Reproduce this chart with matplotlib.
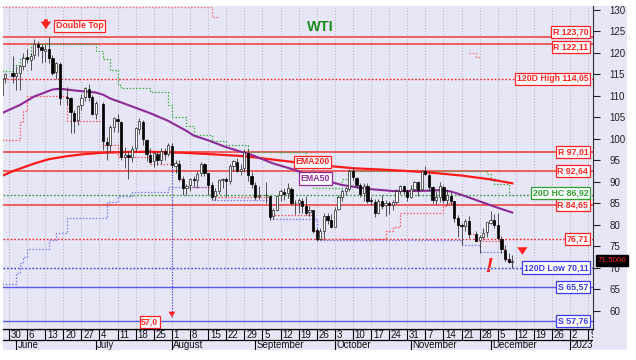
import matplotlib
matplotlib.use("Agg")
import matplotlib.pyplot as plt
import matplotlib.transforms as mtransforms
from matplotlib.patches import Rectangle
import numpy as np
import pandas as pd

plt.rcParams["font.family"] = ["Liberation Sans", "DejaVu Sans"]

# daily WTI candles
dates = [
    "2022-05-26", "2022-05-27", "2022-05-31",
    "2022-06-01", "2022-06-02", "2022-06-03", "2022-06-06", "2022-06-07", "2022-06-08", "2022-06-09",
    "2022-06-10", "2022-06-13", "2022-06-14", "2022-06-15", "2022-06-16", "2022-06-17", "2022-06-21",
    "2022-06-22", "2022-06-23", "2022-06-24", "2022-06-27", "2022-06-28", "2022-06-29", "2022-06-30",
    "2022-07-01", "2022-07-05", "2022-07-06", "2022-07-07", "2022-07-08", "2022-07-11", "2022-07-12",
    "2022-07-13", "2022-07-14", "2022-07-15", "2022-07-18", "2022-07-19", "2022-07-20", "2022-07-21",
    "2022-07-22", "2022-07-25", "2022-07-26", "2022-07-27", "2022-07-28", "2022-07-29",
    "2022-08-01", "2022-08-02", "2022-08-03", "2022-08-04", "2022-08-05", "2022-08-08", "2022-08-09",
    "2022-08-10", "2022-08-11", "2022-08-12", "2022-08-15", "2022-08-16", "2022-08-17", "2022-08-18",
    "2022-08-19", "2022-08-22", "2022-08-23", "2022-08-24", "2022-08-25", "2022-08-26", "2022-08-29",
    "2022-08-30", "2022-08-31",
    "2022-09-01", "2022-09-02", "2022-09-06", "2022-09-07", "2022-09-08", "2022-09-09", "2022-09-12",
    "2022-09-13", "2022-09-14", "2022-09-15", "2022-09-16", "2022-09-19", "2022-09-20", "2022-09-21",
    "2022-09-22", "2022-09-23", "2022-09-26", "2022-09-27", "2022-09-28", "2022-09-29", "2022-09-30",
    "2022-10-03", "2022-10-04", "2022-10-05", "2022-10-06", "2022-10-07", "2022-10-10", "2022-10-11",
    "2022-10-12", "2022-10-13", "2022-10-14", "2022-10-17", "2022-10-18", "2022-10-19", "2022-10-20",
    "2022-10-21", "2022-10-24", "2022-10-25", "2022-10-26", "2022-10-27", "2022-10-28", "2022-10-31",
    "2022-11-01", "2022-11-02", "2022-11-03", "2022-11-04", "2022-11-07", "2022-11-08", "2022-11-09",
    "2022-11-10", "2022-11-11", "2022-11-14", "2022-11-15", "2022-11-16", "2022-11-17", "2022-11-18",
    "2022-11-21", "2022-11-22", "2022-11-23", "2022-11-25", "2022-11-28", "2022-11-29", "2022-11-30",
    "2022-12-01", "2022-12-02", "2022-12-05", "2022-12-06", "2022-12-07", "2022-12-08", "2022-12-09",
]
opens = [
    110.3, 114.1, 115.3,
    114.6, 115.4, 117.0, 119.1, 118.4, 119.5, 122.0, 121.4, 120.5, 121.0, 118.8, 115.5, 117.5, 109.8,
    109.6, 106.0, 104.5, 107.8, 109.7, 111.6, 109.7,
    105.9, 108.2, 99.4, 98.7, 102.9, 104.6, 104.0, 95.9, 96.2, 95.9, 97.8, 102.4, 104.0, 99.8,
    96.2, 94.9, 96.5, 95.2, 97.1, 96.5,
    98.4, 93.8, 94.3, 90.6, 88.6, 89.2, 90.6, 90.4, 92.0, 94.2, 92.0, 89.3, 86.7, 87.8,
    90.4, 90.6, 90.3, 93.8, 94.7, 92.6, 93.2, 96.8, 91.5,
    89.4, 86.8, 87.0, 86.7, 82.0, 83.6, 86.9, 87.6, 87.4, 88.3, 85.0, 85.2, 85.6, 84.4,
    83.0, 83.4, 78.8, 76.8, 78.6, 82.0, 81.1,
    79.6, 83.7, 86.4, 87.9, 88.4, 92.5, 91.0, 89.3, 87.4, 89.0, 85.7, 85.4, 82.9, 85.5,
    84.6, 85.0, 84.7, 85.4, 87.8, 89.0, 87.8,
    86.6, 88.3, 89.9, 88.3, 92.5, 91.7, 88.8, 85.9, 86.6, 88.8, 85.9, 86.8, 85.5, 81.7,
    80.0, 79.8, 80.9, 78.0, 76.4, 77.3, 78.3,
    80.5, 81.1, 80.1, 76.8, 74.2, 72.1, 71.4,
]
highs = [
    114.4, 115.4, 119.4,
    117.0, 117.1, 120.0, 121.0, 120.0, 123.2, 122.7, 122.0, 122.0, 123.7, 119.5, 118.0, 117.9, 112.0,
    109.8, 106.8, 107.8, 110.4, 112.2, 112.8, 110.3,
    108.8, 108.7, 100.5, 103.2, 105.1, 105.7, 104.3, 98.2, 97.2, 98.3, 102.8, 104.8, 104.5, 100.0,
    97.9, 97.0, 97.3, 97.9, 98.0, 99.0,
    99.0, 95.0, 95.2, 91.4, 89.5, 91.0, 91.5, 92.5, 94.6, 94.5, 92.2, 89.9, 88.5, 90.8,
    91.0, 91.1, 94.2, 95.1, 95.6, 94.2, 97.6, 97.6, 92.4,
    89.9, 89.0, 90.0, 87.0, 84.0, 87.0, 88.3, 88.5, 89.8, 88.8, 85.7, 86.3, 86.3, 86.7,
    84.5, 83.6, 79.3, 79.3, 82.8, 82.8, 82.6,
    84.1, 87.0, 88.4, 88.8, 93.0, 93.6, 91.2, 89.8, 89.7, 89.7, 86.6, 86.0, 86.0, 86.9,
    85.9, 85.6, 85.9, 88.4, 89.4, 89.2, 88.3,
    89.3, 90.3, 90.3, 92.8, 93.7, 92.4, 89.1, 88.0, 90.1, 89.3, 88.4, 87.6, 85.6, 82.3,
    80.5, 81.3, 82.0, 78.6, 77.6, 79.4, 80.7,
    83.3, 82.5, 82.8, 77.5, 75.3, 73.4, 73.0,
]
lows = [
    109.6, 113.1, 113.0,
    111.3, 111.4, 116.0, 117.7, 116.1, 118.5, 119.2, 117.7, 118.0, 117.6, 114.8, 114.0, 107.8, 108.0,
    101.5, 101.5, 103.3, 106.7, 108.9, 108.8, 105.5,
    104.6, 97.4, 95.1, 97.0, 101.6, 101.6, 95.1, 93.3, 90.6, 94.6, 97.1, 101.2, 98.6, 94.9,
    94.4, 93.6, 94.0, 94.2, 95.0, 96.0,
    93.3, 92.0, 90.2, 87.0, 87.0, 88.0, 88.8, 88.6, 91.5, 91.4, 87.0, 85.7, 85.7, 87.2,
    88.5, 86.5, 89.5, 92.5, 92.3, 91.7, 92.4, 90.3, 88.7,
    85.9, 86.0, 85.0, 81.2, 81.3, 83.3, 85.6, 85.8, 86.2, 84.7, 82.6, 82.7, 82.7, 82.3,
    82.1, 78.1, 76.3, 76.6, 76.7, 80.3, 79.3,
    79.5, 83.4, 85.6, 87.0, 88.0, 90.4, 88.6, 86.6, 85.5, 85.1, 84.6, 81.9, 82.5, 83.7,
    82.1, 82.5, 83.5, 84.8, 87.2, 87.3, 85.5,
    86.3, 87.8, 86.7, 88.0, 91.6, 87.8, 85.2, 84.8, 85.4, 85.0, 84.6, 84.9, 80.6, 77.2,
    75.3, 78.5, 77.0, 76.8, 73.6, 76.7, 77.2,
    80.2, 79.4, 76.5, 73.6, 71.7, 71.1, 70.1,
]
closes = [
    114.1, 115.1, 114.7,
    115.3, 116.9, 118.9, 118.5, 119.4, 122.1, 121.5, 120.7, 120.9, 118.9, 115.3, 117.6, 109.6, 109.5,
    106.2, 104.3, 107.6, 109.6, 111.8, 109.8, 105.8,
    108.4, 99.5, 98.5, 102.7, 104.8, 104.1, 95.8, 96.3, 95.8, 97.6, 102.6, 104.2, 99.9, 96.4,
    94.7, 96.7, 95.0, 97.3, 96.4, 98.6,
    93.9, 94.4, 90.7, 88.5, 89.0, 90.8, 90.5, 91.9, 94.3, 92.1, 89.4, 86.5, 87.9, 90.5,
    90.8, 90.2, 93.7, 94.9, 92.5, 93.1, 97.0, 91.6, 89.6,
    86.6, 86.9, 86.9, 81.9, 83.5, 86.8, 87.8, 87.3, 88.5, 85.1, 85.1, 85.7, 84.5, 82.9,
    83.5, 78.7, 76.7, 78.5, 82.2, 81.2, 79.5,
    83.6, 86.5, 87.8, 88.5, 92.6, 91.1, 89.4, 87.3, 89.1, 85.6, 85.5, 82.8, 85.6, 84.5,
    85.1, 84.6, 85.3, 87.9, 89.1, 87.9, 86.5,
    88.4, 90.0, 88.2, 92.6, 91.8, 88.9, 85.8, 86.5, 89.0, 85.9, 86.9, 85.6, 81.6, 80.1,
    79.7, 81.0, 77.9, 76.3, 77.2, 78.2, 80.6,
    81.2, 80.0, 76.9, 74.3, 72.0, 71.5, 71.5,
]

# moving averages, read at a few dates
ema200_dates = ["2022-05-26", "2022-05-31", "2022-06-03", "2022-06-08", "2022-06-14", "2022-06-21",
                "2022-06-28", "2022-07-05", "2022-07-14", "2022-07-25", "2022-08-04", "2022-08-15",
                "2022-08-29", "2022-09-12", "2022-09-26", "2022-10-10", "2022-10-24", "2022-11-07",
                "2022-11-21", "2022-12-01", "2022-12-09"]
ema200_values = [91.4, 92.5, 93.4, 94.3, 95.3, 96.0, 96.5, 96.8, 97.0, 97.0, 96.8, 96.5,
                 96.0, 95.0, 94.0, 93.2, 92.8, 92.3, 91.5, 90.6, 89.7]
ema50_dates = ["2022-05-26", "2022-06-02", "2022-06-08", "2022-06-15", "2022-06-17", "2022-06-24",
               "2022-07-01", "2022-07-05", "2022-07-07", "2022-07-12", "2022-07-22", "2022-07-29",
               "2022-08-05", "2022-08-09", "2022-08-15", "2022-08-22", "2022-08-31", "2022-09-08",
               "2022-09-16", "2022-09-21", "2022-09-26", "2022-10-05", "2022-10-14", "2022-10-25",
               "2022-11-03", "2022-11-11", "2022-11-16", "2022-11-21", "2022-11-28", "2022-12-05",
               "2022-12-09"]
ema50_values = [106.0, 107.9, 109.9, 111.5, 111.7, 111.2, 110.8, 110.3, 109.4, 108.5, 106.0, 104.2,
                101.9, 100.8, 99.7, 98.1, 96.3, 94.3, 92.8, 91.8, 90.9, 89.3, 88.4, 87.9,
                87.9, 88.1, 87.8, 87.0, 85.5, 84.0, 82.9]

# channel step lines (level changes)
hc20_dates = ["2022-05-26", "2022-05-31", "2022-06-02", "2022-06-07", "2022-07-01", "2022-07-05",
              "2022-07-07", "2022-07-11", "2022-07-12", "2022-07-22", "2022-07-29", "2022-08-01",
              "2022-08-05", "2022-08-09", "2022-08-16", "2022-08-22", "2022-08-30", "2022-09-21",
              "2022-09-23", "2022-10-05", "2022-10-07", "2022-11-30", "2022-12-01", "2022-12-02",
              "2022-12-08", "2022-12-09"]
hc20_values = [115.7, 117.2, 118.8, 122.2, 120.5, 118.6, 116.0, 112.5, 111.9, 111.0, 108.0, 105.2,
               103.0, 101.0, 99.6, 98.6, 97.0, 95.0, 88.5, 90.8, 92.6, 91.8, 90.5, 89.5,
               86.9, 86.9]
lc20_dates = ["2022-05-26", "2022-06-02", "2022-06-03", "2022-06-06", "2022-06-21", "2022-07-05",
              "2022-07-11", "2022-07-22", "2022-08-03", "2022-08-04", "2022-08-16", "2022-09-07",
              "2022-09-23", "2022-09-26", "2022-10-21", "2022-10-25", "2022-10-27", "2022-11-14",
              "2022-11-15", "2022-11-17", "2022-11-18", "2022-11-21", "2022-11-23", "2022-11-25",
              "2022-12-06", "2022-12-07", "2022-12-08", "2022-12-09"]
lc20_values = [99.8, 104.0, 106.5, 110.0, 104.2, 98.6, 95.8, 94.2, 90.7, 88.9, 86.6, 82.3,
               78.7, 76.7, 78.5, 79.5, 82.8, 84.5, 85.1, 81.6, 80.1, 79.7, 77.9, 76.3,
               74.3, 72.0, 71.5, 71.5]
low120_dates = ["2022-05-26", "2022-06-01", "2022-06-02", "2022-06-03", "2022-06-06", "2022-06-14",
                "2022-06-16", "2022-06-21", "2022-07-06", "2022-07-11", "2022-07-15", "2022-07-29",
                "2022-08-16", "2022-09-07", "2022-09-26", "2022-11-21", "2022-11-28", "2022-12-07",
                "2022-12-09"]
low120_values = [66.2, 68.8, 71.2, 72.6, 74.4, 76.5, 78.2, 81.7, 85.3, 86.8, 87.6, 88.9,
                 85.8, 81.5, 76.4, 75.3, 73.7, 71.7, 70.2]
high120_dates = ["2022-05-26", "2022-08-16", "2022-08-18", "2022-11-23", "2022-11-25", "2022-11-28"]
high120_values = [130.7, 128.3, np.nan, 120.0, 119.1, np.nan]

# horizontal levels
resistance_levels = [123.70, 122.11, 97.01, 92.64, 84.65]
resistance_labels = ["R 123,70", "R 122,11", "R 97,01", "R 92,64", "R 84,65"]
support_levels = [65.57, 57.76]
support_labels = ["S 65,57", "S 57,76"]
high120_level, high120_label = 114.05, "120D High 114,05"
mark_level, mark_label = 76.71, "76,71"
hc20_level, hc20_label = 86.92, "20D HC 86,92"
low120_level, low120_label = 70.11, "120D Low 70,11"
last_price = "71.5000"
target_date, target_label = "2022-08-01", "57,0"

week_starts = ["2022-05-30", "2022-06-06", "2022-06-13", "2022-06-20", "2022-06-27", "2022-07-04",
               "2022-07-11", "2022-07-18", "2022-07-25", "2022-08-01", "2022-08-08", "2022-08-15",
               "2022-08-22", "2022-08-29", "2022-09-05", "2022-09-12", "2022-09-19", "2022-09-26",
               "2022-10-03", "2022-10-10", "2022-10-17", "2022-10-24", "2022-10-31", "2022-11-07",
               "2022-11-14", "2022-11-21", "2022-11-28", "2022-12-05", "2022-12-12", "2022-12-19",
               "2022-12-26", "2023-01-02", "2023-01-09"]
week_labels = ["30", "6", "13", "20", "27", "4", "11", "18", "25", "1", "8", "15", "22", "29", "5",
               "12", "19", "26", "3", "10", "17", "24", "31", "7", "14", "21", "28", "5", "12", "19",
               "26", "2", "9"]
month_starts = ["2022-06-01", "2022-07-01", "2022-08-01", "2022-09-01", "2022-10-03", "2022-11-01",
                "2022-12-01", "2023-01-02"]
month_labels = ["June", "July", "August", "September", "October", "November", "December", "2023"]

LAV = "#E6E6F7"
RED = "#FF2222"
RLINE = "#EE6060"
BLUE = "#3A3AEE"
GREEN = "#2E9E2E"
PURPLE = "#8E2A96"

bdays = pd.bdate_range("2022-05-26", "2023-01-13")
slot = pd.Series(np.arange(len(bdays), dtype=float), index=bdays)


def to_x(ds):
    return slot.loc[pd.to_datetime(ds)].to_numpy()


W, H = 636, 360


def fx(px):
    return px / W


def fy(py):
    return 1 - py / H


fig = plt.figure(figsize=(6.36, 3.6), dpi=100)
fig.patch.set_facecolor("white")
fig.patches.append(Rectangle((fx(3), fy(350)), fx(627) - fx(3), fy(6) - fy(350),
                             transform=fig.transFigure, facecolor=LAV, edgecolor="none", zorder=-1))

ax = fig.add_axes([fx(3), fy(329), fx(593) - fx(3), fy(6) - fy(329)])
ax.set_facecolor(LAV)
ax.set_xlim(0.35, 163.3)
ax.set_ylim(55.81, 130.93)
ymin, ymax = ax.get_ylim()

ax.vlines(to_x(week_starts), ymin, ymax, colors="#A9A9B8", linestyles=(0, (1.2, 2.2)), lw=0.6, zorder=0)

trans = mtransforms.blended_transform_factory(ax.transAxes, ax.transData)
dotted = (0, (1.2, 1.4))

for lvl in resistance_levels:
    ax.axhline(lvl, color=RLINE, lw=1.4, zorder=1)
for lvl in support_levels:
    ax.axhline(lvl, color="#5A5AF0", lw=1.0, zorder=1)
ax.axhline(high120_level, color=RED, lw=1.0, ls=dotted, zorder=1)
ax.axhline(mark_level, color=RED, lw=1.0, ls=dotted, zorder=1)
ax.axhline(hc20_level, color=GREEN, lw=1.0, ls=dotted, zorder=1)
ax.axhline(low120_level, color=BLUE, lw=1.0, ls=dotted, zorder=1)

# channel steps
ax.step(to_x(hc20_dates), hc20_values, where="post", color="#3FA83F", lw=0.9, ls=dotted, zorder=2)
ax.step(to_x(lc20_dates), lc20_values, where="post", color="#FF5555", lw=0.9, ls=dotted, zorder=2)
ax.step(to_x(low120_dates), low120_values, where="post", color="#7A7AF2", lw=0.9, ls=dotted, zorder=2)
ax.step(to_x(high120_dates), high120_values, where="post", color="#FF7070", lw=0.9, ls=dotted, zorder=2)

# moving averages
ax.plot(to_x(ema200_dates), ema200_values, color="#FF1A1A", lw=1.6, zorder=3)
ax.plot(to_x(ema50_dates), ema50_values, color=PURPLE, lw=1.5, zorder=3)

# candles
x = to_x(dates)
o = np.array(opens)
h = np.array(highs)
lo = np.array(lows)
c = np.array(closes)
up = c >= o
body_low = np.minimum(o, c)
body_h = np.maximum(np.abs(c - o), 0.15)
ax.vlines(x, lo, h, color="#383838", lw=0.6, zorder=4)
ax.bar(x[up], body_h[up], bottom=body_low[up], width=0.62, color="white",
       edgecolor="#202020", lw=0.5, zorder=5)
ax.bar(x[~up], body_h[~up], bottom=body_low[~up], width=0.62, color="black",
       edgecolor="black", lw=0.5, zorder=5)


def tag(value, text, color, at=None):
    ax.text(0.992, value if at is None else at, text, transform=trans, ha="right", va="center",
            fontsize=6.3, fontweight="bold", color=color, zorder=8,
            bbox=dict(boxstyle="square,pad=0.18", fc="white", ec=color, lw=0.9))


# tags that would collide are nudged off their lines
tag_offsets = {123.70: 1.1, 122.11: -0.8}
for lvl, lab in zip(resistance_levels, resistance_labels):
    tag(lvl, lab, RED, lvl + tag_offsets.get(lvl, 0.0))
for lvl, lab in zip(support_levels, support_labels):
    tag(lvl, lab, BLUE)
tag(high120_level, high120_label, RED)
tag(mark_level, mark_label, RED)
tag(hc20_level, hc20_label, GREEN, hc20_level + 0.5)
tag(low120_level, low120_label, BLUE)

ax.text(1.008, 71.8, last_price, transform=trans, ha="left", va="center", fontsize=5.8,
        color="#FF2020", clip_on=False, zorder=9,
        bbox=dict(boxstyle="square,pad=0.22", fc="black", ec="black"))

# annotations
box = dict(boxstyle="square,pad=0.18", fc="white", lw=0.9)
ax.text(87.9, 126.1, "WTI", color="#1E8A1E", fontsize=10.5, fontweight="bold", ha="center", va="center")
ax.text(21.6, 126.3, "Double Top", color=RED, fontsize=6.3, fontweight="bold", ha="center", va="center",
        bbox={**box, "ec": RED}, zorder=8)
ax.text(85.8, 94.7, "EMA200", color=RED, fontsize=6.3, fontweight="bold", ha="center", va="center",
        bbox={**box, "ec": RED}, zorder=8)
ax.text(86.6, 90.8, "EMA50", color=PURPLE, fontsize=6.3, fontweight="bold", ha="center", va="center",
        bbox={**box, "ec": PURPLE}, zorder=8)

arrow = dict(arrowstyle="simple,head_length=0.55,head_width=0.75,tail_width=0.28", color=RED, lw=0)
ax.annotate("", xy=(12.2, 124.9), xytext=(12.2, 128.5), arrowprops=arrow, zorder=8)
ax.annotate("", xy=(143.8, 72.4), xytext=(143.8, 75.4), arrowprops=arrow, zorder=8)
ax.text(134.5, 70.3, "!", color=RED, fontsize=15, fontweight="bold", fontstyle="italic",
        ha="center", va="center", zorder=8)

tx = to_x([target_date])[0]
ax.vlines(tx, 58.6, 94.0, colors=BLUE, linestyles=(0, (1, 1.5)), lw=0.8, zorder=6)
ax.annotate("", xy=(tx, 57.9), xytext=(tx, 59.4),
            arrowprops=dict(arrowstyle="simple,head_length=0.4,head_width=0.5,tail_width=0.15",
                            color=RED, lw=0), zorder=8)
ax.text(tx - 6.1, 57.5, target_label, color=RED, fontsize=6.3, fontweight="bold", ha="center",
        va="center", bbox={**box, "ec": RED}, zorder=8)

# axis styling
ax.yaxis.tick_right()
ax.set_yticks(np.arange(60, 131, 5))
ax.tick_params(axis="y", direction="out", length=5, width=0.8, labelsize=7, pad=7, colors="#222222")
ax.set_xticks([])
for side in ("left", "top"):
    ax.spines[side].set_visible(False)
ax.spines["right"].set_color("#333333")
ax.spines["bottom"].set_color("black")
ax.spines["bottom"].set_linewidth(0.9)

# date strip
dx = fig.add_axes([fx(3), fy(350), fx(593) - fx(3), fy(329) - fy(350)])
dx.set_facecolor(LAV)
dx.set_xlim(ax.get_xlim())
dx.set_ylim(0, 2)
dx.axis("off")
dx.axhline(1, color="black", lw=0.9)
dx.axhline(2, color="black", lw=0.9)
wx = to_x(week_starts)
dx.vlines(wx, 1, 2, colors="black", lw=0.8)
for xv, lab in zip(wx, week_labels):
    dx.text(xv + 0.5, 1.47, lab, fontsize=7, ha="left", va="center", color="#111111", clip_on=True)
mx = to_x(month_starts)
dx.vlines(mx, 0, 1, colors="black", lw=0.8)
for xv, lab in zip(mx, month_labels):
    dx.text(xv + 0.4, 0.47, lab, fontsize=7, ha="left", va="center", color="#111111", clip_on=True)

fig.savefig("out.png", dpi=100, facecolor="white")
